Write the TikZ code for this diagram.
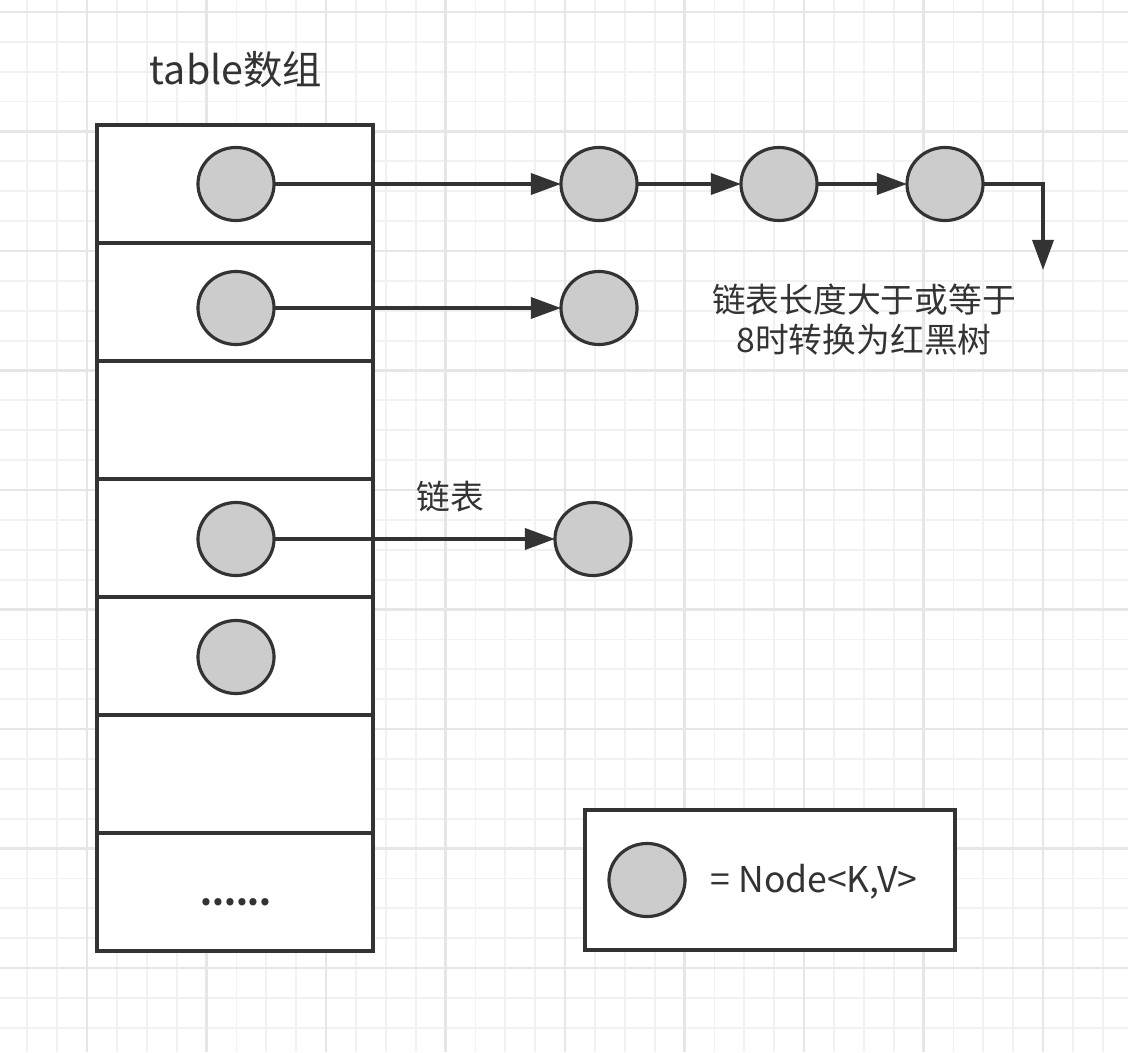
\documentclass[tikz,border=0pt]{standalone}
\usepackage{fontspec}
\setmainfont{Noto Sans CJK SC}
\usetikzlibrary{arrows.meta, shapes.geometric}

\definecolor{ink}{HTML}{333333}
\definecolor{nodegray}{HTML}{CCCCCC}
\definecolor{gridminor}{HTML}{F1F1F1}
\definecolor{gridmajor}{HTML}{E6E6E6}

\begin{document}
\begin{tikzpicture}[x = 0.01cm, y = -0.01cm,
    cell/.style = {draw = ink, line width = 1pt, minimum width = 2.76cm, minimum height = 1.18cm, inner sep = 0, outer sep = 0},
    entry/.style = {ellipse, draw = ink, line width = 0.9pt, fill = nodegray, minimum width = 0.76cm, minimum height = 0.73cm, inner sep = 0, outer sep = 0},
    link/.style = {draw = ink, line width = 1pt, -{Triangle[length = 0.3cm, width = 0.21cm]}},
    note/.style = {text = ink, font = \fontsize{9.6}{11.4}\selectfont, align = center}]
    \useasboundingbox (0, 0) rectangle (1128, 1052);
    \fill[white] (0, 0) rectangle (1128, 1052);

    % background grid
    \foreach \i in {0, ..., 37}
        \draw[gridminor, line width = 0.5pt] ({27.25 + 29.875*\i}, 0) -- ({27.25 + 29.875*\i}, 1052);
    \foreach \i in {0, ..., 35}
        \draw[gridminor, line width = 0.5pt] (0, {12 + 29.875*\i}) -- (1128, {12 + 29.875*\i});
    \foreach \i in {0, ..., 8}
        \draw[gridmajor, line width = 0.6pt] ({87 + 119.5*\i}, 0) -- ({87 + 119.5*\i}, 1052);
    \foreach \i in {0, ..., 8}
        \draw[gridmajor, line width = 0.6pt] (0, {12 + 119.5*\i}) -- (1128, {12 + 119.5*\i});

    % table array
    \node[note, font = \fontsize{11.2}{13}\selectfont] (title) at (236, 70) {table数组};
    \foreach \r in {1, ..., 7}
        \node[cell, fill = white] (cell\r) at (235, {184 + 118*(\r - 1)}) {};
    \node[note, font = \fontsize{9.6}{11.4}\bfseries] (more) at (236, 902) {......};

    \node[entry] (head1) at (236, 184) {};
    \node[entry] (head2) at (236, 308) {};
    \node[entry] (head4) at (236, 539) {};
    \node[entry] (head5) at (236, 657) {};

    % chains
    \node[entry] (c11) at (599, 184) {};
    \node[entry] (c12) at (779, 184) {};
    \node[entry] (c13) at (945, 184) {};
    \node[entry] (c21) at (599, 308) {};
    \node[entry] (c41) at (593, 539) {};
    \coordinate (treeEnd) at (1043, 270);

    \draw[link] (head1) -- (c11);
    \draw[link] (c11) -- (c12);
    \draw[link] (c12) -- (c13);
    \draw[link] (c13.east) -| (treeEnd);
    \draw[link] (head2) -- (c21);
    \draw[link] (head4) -- (c41);

    \node[note] (treeNote) at (864, 320) {链表长度大于或等于\\8时转换为红黑树};
    \node[note] (listNote) at (450, 497) {链表};

    % legend
    \node[cell, fill = white, minimum width = 3.70cm, minimum height = 1.40cm] (legend) at (770, 880) {};
    \node[entry] (legendNode) at (647, 880) {};
    \node[note, font = \fontsize{10.1}{12}\selectfont] (legendText) at (814, 882) {= Node<K,V>};
\end{tikzpicture}
\end{document}
